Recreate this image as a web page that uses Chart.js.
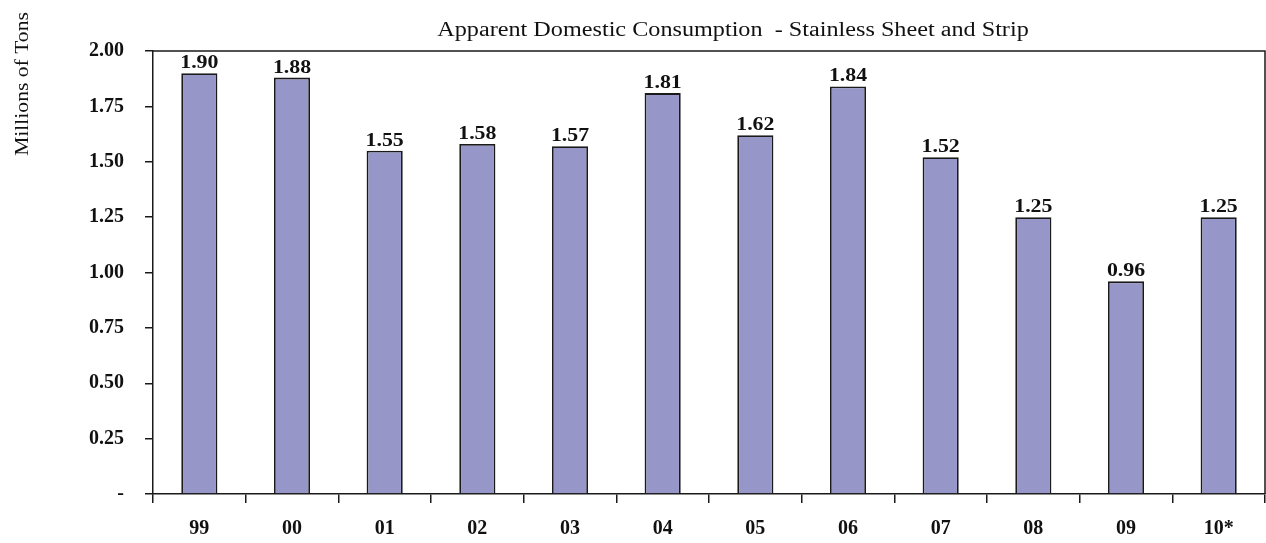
<!DOCTYPE html>
<html>
<head>
<meta charset="utf-8">
<script src="https://cdn.jsdelivr.net/npm/chart.js@4/dist/chart.umd.min.js"></script>
<style>
  html, body { margin: 0; padding: 0; background: #ffffff; }
  #wrap { width: 1266px; height: 543px; position: relative; }
</style>
</head>
<body>
<div id="wrap"><canvas id="c" width="1266" height="543"></canvas></div>
<script>
const categories = ["99", "00", "01", "02", "03", "04", "05", "06", "07", "08", "09", "10*"];
const consumption = [1.90, 1.88, 1.55, 1.58, 1.57, 1.81, 1.62, 1.84, 1.52, 1.25, 0.96, 1.25];
const yTickValues = [0, 0.25, 0.5, 0.75, 1.0, 1.25, 1.5, 1.75, 2.0];
const chartTitle = "Apparent Domestic Consumption  - Stainless Sheet and Strip";
const yAxisTitle = "Millions of Tons";

const SERIF = "'Liberation Serif', 'Times New Roman', serif";

function stretchedText(ctx, text, x, y, sx) {
  ctx.save();
  ctx.translate(x, y);
  ctx.scale(sx, 1);
  ctx.fillText(text, 0, 0);
  ctx.restore();
}

const decorPlugin = {
  id: 'decor',
  afterDatasetsDraw(chart) {
    const ctx = chart.ctx;
    const a = chart.chartArea;
    ctx.save();
    // top and right frame lines
    ctx.strokeStyle = '#1a1a1a';
    ctx.lineWidth = 1.5;
    ctx.beginPath();
    ctx.moveTo(a.left, a.top);
    ctx.lineTo(a.right, a.top);
    ctx.lineTo(a.right, a.bottom);
    ctx.stroke();
    // value labels
    const meta = chart.getDatasetMeta(0);
    ctx.fillStyle = '#111111';
    ctx.font = 'bold 19px ' + SERIF;
    ctx.textAlign = 'center';
    ctx.textBaseline = 'alphabetic';
    meta.data.forEach((bar, i) => {
      stretchedText(ctx, consumption[i].toFixed(2), bar.x, bar.y - 5, 1.15);
    });
    // title
    ctx.font = '20px ' + SERIF;
    ctx.textAlign = 'center';
    stretchedText(ctx, chartTitle, 733, 36, 1.21);
    // y axis title
    ctx.translate(28, 84);
    ctx.rotate(-Math.PI / 2);
    ctx.font = '18px ' + SERIF;
    ctx.textAlign = 'center';
    stretchedText(ctx, yAxisTitle, 0, 0, 1.2);
    ctx.restore();
  }
};

new Chart(document.getElementById('c'), {
  type: 'bar',
  data: {
    labels: categories,
    datasets: [{
      data: consumption,
      backgroundColor: '#9696c8',
      borderColor: '#1a1a1a',
      borderWidth: 1.8,
      barPercentage: 0.39,
      categoryPercentage: 1.0
    }]
  },
  options: {
    responsive: false,
    animation: false,
    devicePixelRatio: 1,
    layout: { padding: { left: 0, right: 1, top: 51, bottom: 0 } },
    plugins: {
      legend: { display: false },
      title: { display: false },
      tooltip: { enabled: false }
    },
    scales: {
      x: {
        grid: { display: true, drawOnChartArea: false, offset: true, tickLength: 9, color: '#1a1a1a', lineWidth: 1.5 },
        border: { display: true, color: '#1a1a1a', width: 1.5 },
        ticks: { color: '#111111', font: { family: SERIF, size: 20, weight: 'bold' }, padding: 14, maxRotation: 0 },
        afterFit(s) { s.height = 49; }
      },
      y: {
        min: 0,
        max: 2,
        afterBuildTicks(s) { s.ticks = yTickValues.map(v => ({ value: v })); },
        grid: { display: true, drawOnChartArea: false, tickLength: 8, color: '#1a1a1a', lineWidth: 1.5 },
        border: { display: true, color: '#1a1a1a', width: 1.5 },
        ticks: {
          color: '#111111',
          font: { family: SERIF, size: 20, weight: 'bold' },
          padding: 21,
          callback(v) { return v === 0 ? '-' : Number(v).toFixed(2); }
        },
        afterFit(s) { s.width = 153; }
      }
    }
  },
  plugins: [decorPlugin]
});
</script>
</body>
</html>
